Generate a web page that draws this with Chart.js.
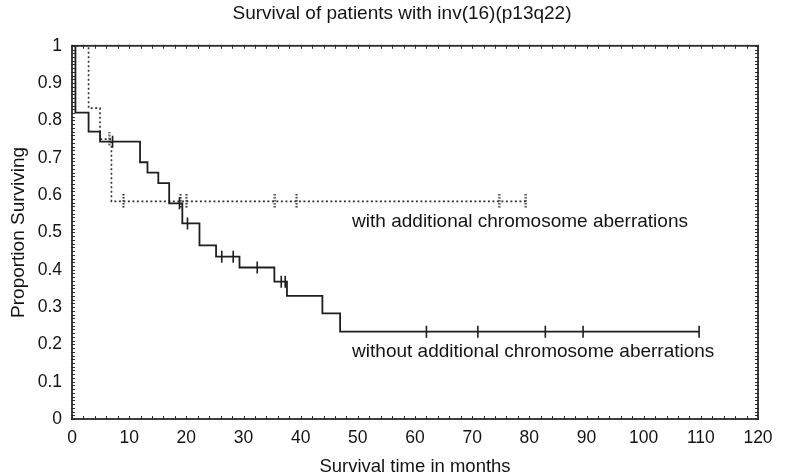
<!DOCTYPE html>
<html>
<head>
<meta charset="utf-8">
<title>Survival of patients with inv(16)(p13q22)</title>
<script src="https://cdn.jsdelivr.net/npm/chart.js@4.4.1/dist/chart.umd.min.js"></script>
<style>
    html, body { margin: 0; padding: 0; background: #fff; }
    #wrap { width: 790px; height: 475px; }
</style>
</head>
<body>
<div id="wrap"><canvas id="kmChart" width="790" height="475"></canvas></div>
<script>
// Kaplan-Meier steps, months vs proportion surviving

// without additional chromosome aberrations
var withoutTimes = [0, 0.6, 2.9, 4.9, 11.9, 13.2, 15.1, 17.0, 19.3, 22.3, 25.2, 29.3, 35.4, 37.6, 43.8, 46.9, 109.7];
var withoutSurv = [1, 0.821, 0.770, 0.743, 0.688, 0.660, 0.632, 0.578, 0.524, 0.465, 0.435, 0.406, 0.368, 0.330, 0.283, 0.234, 0.234];
var withoutCensTimes = [7.1, 18.8, 20.2, 26.2, 28.2, 32.4, 36.6, 37.3, 62.0, 71.0, 82.8, 89.4, 109.7];
var withoutCensSurv = [0.743, 0.578, 0.524, 0.435, 0.435, 0.406, 0.368, 0.368, 0.234, 0.234, 0.234, 0.234, 0.234];

// with additional chromosome aberrations
var withTimes = [0, 2.9, 4.9, 6.9, 79.4];
var withSurv = [1, 0.833, 0.750, 0.583, 0.583];
var withCensTimes = [6.5, 9.0, 19.0, 20.0, 35.5, 39.3, 74.7, 79.4];
var withCensSurv = [0.750, 0.583, 0.583, 0.583, 0.583, 0.583, 0.583, 0.583];

// axis ticks
var xTickValues = [0, 10, 20, 30, 40, 50, 60, 70, 80, 90, 100, 110, 120];
var yTickValues = [0, 0.1, 0.2, 0.3, 0.4, 0.5, 0.6, 0.7, 0.8, 0.9, 1];
var yTickLabels = ['0', '0.1', '0.2', '0.3', '0.4', '0.5', '0.6', '0.7', '0.8', '0.9', '1'];

var curveLabels = [
    { text: 'with additional chromosome aberrations', x: 49.0, y: 0.528 },
    { text: 'without additional chromosome aberrations', x: 49.0, y: 0.180 }
];

function toPoints(xs, ys) {
    return xs.map(function (t, i) { return { x: t, y: ys[i] }; });
}

// small dotted vertical tick used for censored cases on the dotted curve
var dotTick = document.createElement('canvas');
dotTick.width = 3;
dotTick.height = 15;
var dctx = dotTick.getContext('2d');
dctx.fillStyle = '#333';
for (var d = 0; d < 15; d += 3) {
    dctx.fillRect(0.5, d, 2, 1.6);
}

var inkColor = '#141414';
var fontFamily = '"Liberation Sans", Arial, Helvetica, sans-serif';

// frame with minor ticks on all four sides plus the curve captions
var framePlugin = {
    id: 'frameTicks',
    afterDatasetsDraw: function (chart) {
        var ctx = chart.ctx;
        var area = chart.chartArea;
        var xs = chart.scales.x;
        var ys = chart.scales.y;
        var v, px, py;

        ctx.save();
        ctx.strokeStyle = '#2a2a2a';
        ctx.lineWidth = 1.8;
        ctx.strokeRect(area.left, area.top, area.right - area.left, area.bottom - area.top);

        ctx.lineWidth = 1;
        ctx.beginPath();
        for (v = 0; v <= 120; v += 2) {
            px = Math.round(xs.getPixelForValue(v)) + 0.5;
            ctx.moveTo(px, area.bottom + 1);
            ctx.lineTo(px, area.bottom - 3);
            ctx.moveTo(px, area.top - 1);
            ctx.lineTo(px, area.top + 3);
        }
        for (v = 0; v <= 100; v += 1) {
            py = Math.round(ys.getPixelForValue(v / 100)) + 0.5;
            ctx.moveTo(area.left - 1, py);
            ctx.lineTo(area.left + 3, py);
            ctx.moveTo(area.right + 1, py);
            ctx.lineTo(area.right - 3, py);
        }
        ctx.stroke();

        ctx.fillStyle = inkColor;
        ctx.font = '19px ' + fontFamily;
        ctx.textAlign = 'left';
        ctx.textBaseline = 'middle';
        curveLabels.forEach(function (lab) {
            ctx.fillText(lab.text, xs.getPixelForValue(lab.x), ys.getPixelForValue(lab.y));
        });
        ctx.restore();
    }
};

var ctxKm = document.getElementById('kmChart').getContext('2d');
var chart = new Chart(ctxKm, {
    type: 'line',
    data: {
        datasets: [{
            label: 'without additional chromosome aberrations',
            data: toPoints(withoutTimes, withoutSurv),
            stepped: 'before',
            borderColor: '#1e1e1e',
            borderWidth: 1.8,
            pointRadius: 0,
            fill: false
        }, {
            label: 'with additional chromosome aberrations',
            data: toPoints(withTimes, withSurv),
            stepped: 'before',
            borderColor: '#333',
            borderWidth: 1.6,
            borderDash: [2, 2.5],
            pointRadius: 0,
            fill: false
        }, {
            label: 'censored (without)',
            data: toPoints(withoutCensTimes, withoutCensSurv),
            showLine: false,
            pointStyle: 'line',
            rotation: 90,
            pointRadius: 6,
            pointBorderWidth: 1.6,
            pointBorderColor: '#1e1e1e'
        }, {
            label: 'censored (with)',
            data: toPoints(withCensTimes, withCensSurv),
            showLine: false,
            pointStyle: dotTick,
            pointRadius: 7
        }]
    },
    options: {
        responsive: false,
        animation: false,
        events: [],
        layout: {
            padding: { left: 14, right: 0, top: 0, bottom: 0 }
        },
        plugins: {
            legend: { display: false },
            tooltip: { enabled: false },
            title: {
                display: true,
                text: 'Survival of patients with inv(16)(p13q22)',
                color: inkColor,
                font: { family: fontFamily, size: 19, weight: 'normal' },
                padding: { top: 2, bottom: 21 }
            }
        },
        scales: {
            x: {
                type: 'linear',
                min: 0,
                max: 120,
                afterBuildTicks: function (scale) {
                    scale.ticks = xTickValues.map(function (v) { return { value: v }; });
                },
                afterFit: function (scale) { scale.height = 56; },
                grid: { display: false, drawTicks: false },
                border: { display: false },
                ticks: {
                    color: inkColor,
                    padding: 9,
                    maxRotation: 0,
                    font: { family: fontFamily, size: 17.5 }
                },
                title: {
                    display: true,
                    text: 'Survival time in months',
                    color: inkColor,
                    padding: { top: 0, bottom: -3 },
                    font: { family: fontFamily, size: 18.5 }
                }
            },
            y: {
                type: 'linear',
                min: 0,
                max: 1,
                afterBuildTicks: function (scale) {
                    scale.ticks = yTickValues.map(function (v) { return { value: v }; });
                },
                afterFit: function (scale) { scale.width = 58; },
                grid: { display: false, drawTicks: false },
                border: { display: false },
                ticks: {
                    color: inkColor,
                    padding: 10,
                    font: { family: fontFamily, size: 17.5 },
                    callback: function (value, index) { return yTickLabels[index]; }
                },
                title: {
                    display: true,
                    text: 'Proportion Surviving',
                    color: inkColor,
                    padding: { top: -7, bottom: 0 },
                    font: { family: fontFamily, size: 19 }
                }
            },
            // empty right-hand axis keeping the margin beside the frame
            yRight: {
                type: 'linear',
                position: 'right',
                min: 0,
                max: 1,
                afterFit: function (scale) { scale.width = 32; },
                grid: { display: false, drawTicks: false },
                border: { display: false },
                ticks: { display: false }
            }
        }
    },
    plugins: [framePlugin]
});
</script>
</body>
</html>
